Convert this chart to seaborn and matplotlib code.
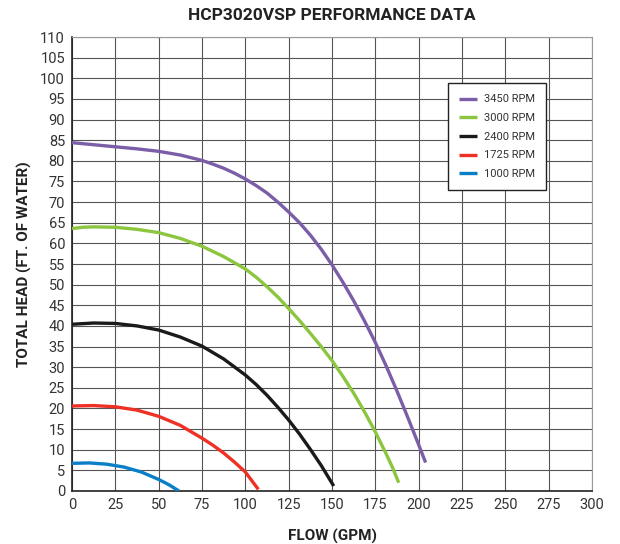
import matplotlib
matplotlib.use("Agg")
import matplotlib.pyplot as plt
import seaborn as sns
import pandas as pd

# ---- data ----
rpm_labels = ["3450 RPM", "3000 RPM", "2400 RPM", "1725 RPM", "1000 RPM"]
colors = ["#7b5ea7", "#8cc63f", "#1a1a1a", "#ee3124", "#0a7fc8"]

flow_3450 = [0, 12.5, 25, 37.5, 50, 62.5, 75, 81.25, 87.5, 93.75, 100, 106.25, 112.5, 118.75, 125,
             131.25, 137.5, 143.75, 150, 156.25, 162.5, 168.75, 175, 181.25, 187.5, 193.75, 200, 204]
head_3450 = [84.4, 83.9, 83.4, 82.9, 82.3, 81.4, 80.1, 79.2, 78.2, 77.0, 75.6, 74.0, 72.2, 70.0, 67.6,
             65.0, 62.0, 58.6, 54.8, 50.6, 46.1, 41.2, 36.0, 30.3, 24.2, 17.8, 11.2, 6.9]

flow_3000 = [0, 6.25, 12.5, 25, 37.5, 50, 62.5, 75, 87.5, 100, 106.25, 112.5, 118.75, 125, 131.25,
             137.5, 143.75, 150, 156.25, 162.5, 168.75, 175, 181.25, 185, 188.5]
head_3000 = [63.6, 63.9, 64.0, 63.9, 63.4, 62.6, 61.2, 59.3, 56.8, 53.8, 51.8, 49.5, 47.0, 44.2, 41.3,
             38.2, 35.0, 31.6, 27.8, 23.7, 19.2, 14.3, 9.0, 5.6, 2.0]

flow_2400 = [0, 12.5, 25, 37.5, 50, 62.5, 75, 87.5, 100, 106.25, 112.5, 118.75, 125, 131.25, 137.5, 143.75, 151]
head_2400 = [40.4, 40.7, 40.6, 40.0, 39.0, 37.3, 35.1, 32.0, 28.1, 25.8, 23.2, 20.3, 17.2, 13.8, 10.1, 6.2, 1.2]

flow_1725 = [0, 12.5, 25, 37.5, 50, 62.5, 75, 81.25, 87.5, 93.75, 100, 107.5]
head_1725 = [20.6, 20.7, 20.4, 19.6, 18.1, 15.9, 12.8, 11.1, 9.2, 7.0, 4.6, 0.4]

flow_1000 = [0, 10, 20, 30, 40, 50, 56, 61.7]
head_1000 = [6.7, 6.8, 6.5, 5.8, 4.6, 2.8, 1.5, 0.0]

x_ticks = list(range(0, 301, 25))
y_ticks = list(range(0, 111, 5))

flows = [flow_3450, flow_3000, flow_2400, flow_1725, flow_1000]
heads = [head_3450, head_3000, head_2400, head_1725, head_1000]
frames = []
for lab, f, h in zip(rpm_labels, flows, heads):
    frames.append(pd.DataFrame({"flow": f, "head": h, "speed": lab}))
df = pd.concat(frames, ignore_index=True)

sns.set_theme(style="white")
plt.rcParams["font.family"] = ["Roboto", "DejaVu Sans"]

fig = plt.figure(figsize=(6.2, 5.44), dpi=100)
ax = fig.add_axes([72 / 620, 53 / 544, 520 / 620, 454 / 544])

sns.lineplot(data=df, x="flow", y="head", hue="speed", hue_order=rpm_labels,
             palette=colors, sort=False, estimator=None, linewidth=2.4, ax=ax,
             zorder=3, solid_joinstyle="round", solid_capstyle="butt")

ax.set_xlim(0, 300)
ax.set_ylim(0, 110)
ax.set_xticks(x_ticks)
ax.set_yticks(y_ticks)
ax.tick_params(axis="both", length=0, pad=5, labelsize=10.5, colors="#333333")
ax.grid(True, color="#555555", linewidth=0.8, zorder=0)
ax.set_axisbelow(True)
for side in ["left", "bottom"]:
    ax.spines[side].set_color("#222222")
    ax.spines[side].set_linewidth(1.2)
for side in ["top", "right"]:
    ax.spines[side].set_color("#999999")
    ax.spines[side].set_linewidth(0.8)

ax.set_xlabel("FLOW (GPM)", fontsize=11, fontweight="bold", color="#222222", labelpad=12)
ax.set_ylabel("TOTAL HEAD (FT. OF WATER)", fontsize=11, fontweight="bold", color="#222222", labelpad=6)
ax.set_title("HCP3020VSP PERFORMANCE DATA", fontsize=12.5, fontweight="bold", color="#222222", pad=12)

leg = ax.legend(loc="upper left", bbox_to_anchor=(0.723, 0.898), fontsize=8,
                frameon=True, fancybox=False, handlelength=1.6, labelspacing=0.78,
                borderpad=1.0, handletextpad=0.6, borderaxespad=0, title=None)
leg.get_frame().set_edgecolor("#222222")
leg.get_frame().set_linewidth(1.0)
leg.get_frame().set_facecolor("white")
leg.get_frame().set_alpha(1)
for t in leg.get_texts():
    t.set_color("#333333")

fig.savefig("out.png", dpi=100)
